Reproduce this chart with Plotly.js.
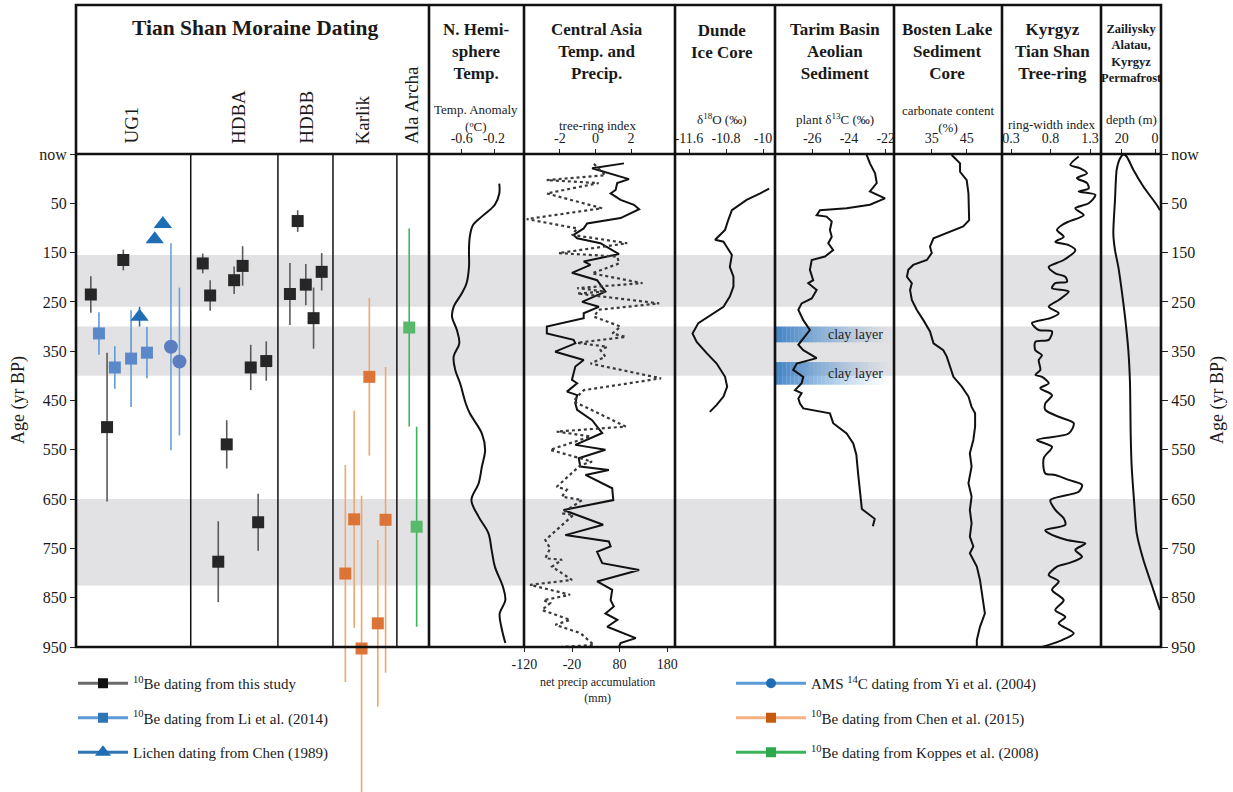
<!DOCTYPE html>
<html><head><meta charset="utf-8">
<script src="https://cdn.plot.ly/plotly-3.0.1.min.js"></script>
<style>html,body{margin:0;padding:0;background:#fff}#chart{width:1233px;height:792px}</style>
</head><body><div id="chart"></div>
<script>
// ================= DATA =================
const ageTickVals = [-50, 50, 150, 250, 350, 450, 550, 650, 750, 850, 950];
const ageTickText = ['now', '50', '150', '250', '350', '450', '550', '650', '750', '850', '950'];
const coldBands = [[155, 260], [300, 400], [650, 825]];
const clayLayers = [[300, 332], [372, 418]];

// top/bottom axis tick values and labels
const nhTicks = [-0.6, -0.2], nhTickText = ['-0.6', '-0.2'];
const treeTicks = [-2, 0, 2], treeTickText = ['-2', '0', '2'];
const precipTicks = [-120, -20, 80, 180], precipTickText = ['-120', '-20', '80', '180'];
const dundeTicks = [-11.6, -10.8, -10], dundeTickText = ['-11.6', '-10.8', '-10'];
const tarimTicks = [-26, -24, -22], tarimTickText = ['-26', '-24', '-22'];
const bostenTicks = [35, 45], bostenTickText = ['35', '45'];
const kyrgyzTicks = [0.3, 0.8, 1.3], kyrgyzTickText = ['0.3', '0.8', '1.3'];
const permaTicks = [20, 0], permaTickText = ['20', '0'];

// Moraine dating panel (position = % across the panel)
const moraineColumns = ['UG1', 'HDBA', 'HDBB', 'Karlik', 'Ala Archa'];
const moraineColumnCenters = [15.6, 45.9, 65.2, 81.3, 94.9];
const moraineColumnDividers = [32.5, 57.2, 72.8, 90.9];

const thisStudyPos = [4.2, 13.4, 8.8, 35.9, 38.0, 44.8, 47.2, 49.5, 53.9, 42.7, 40.3, 51.6, 62.8, 60.6, 65.1, 67.3, 69.6];
const thisStudyAge = [235, 165, 504, 172, 237, 206, 177, 383, 370, 539, 777, 697, 86, 234, 215, 283, 189];
const thisStudyErr = [37, 21, 151, 20, 31, 28, 40, 46, 40, 49, 82, 58, 22, 63, 42, 62, 38];

const li2014Pos = [6.5, 11.0, 15.6, 20.1];
const li2014Age = [314, 383, 365, 353];
const li2014Err = [43, 43, 98, 52];

const chen1989Pos = [24.6, 22.3, 18.0];
const chen1989Age = [92, 123, 280];
const chen1989Err = [0, 0, 20];

const yi2004Pos = [26.9, 29.3];
const yi2004Age = [341, 371];
const yi2004Err = [210, 150];

const chen2015Pos = [83.1, 87.7, 78.8, 76.3, 85.5, 80.9];
const chen2015Age = [402, 692, 691, 801, 902, 953];
const chen2015Err = [160, 310, 220, 220, 169, 310];

const koppes2008Pos = [94.4, 96.5];
const koppes2008Age = [302, 706];
const koppes2008Err = [201, 203];

// N. Hemisphere temperature anomaly (°C)
const nhTempAge = [10, 30, 53, 74, 94, 118, 145, 179, 212, 233, 260, 280, 307, 334, 361, 388, 415, 456, 476, 517, 550, 584, 618, 652, 686, 719, 753, 787, 828, 855, 882, 909, 942];
const nhTempAnom = [-0.135, -0.135, -0.19, -0.33, -0.46, -0.50, -0.51, -0.51, -0.54, -0.60, -0.70, -0.72, -0.66, -0.63, -0.70, -0.68, -0.62, -0.55, -0.50, -0.35, -0.31, -0.35, -0.39, -0.48, -0.39, -0.27, -0.23, -0.19, -0.09, -0.06, -0.13, -0.11, -0.06];

// Central Asia tree-ring index (solid)
const caTreeAge = [-31, -21, 1, 9, 23, 30, 43, 53, 62, 80, 91, 101, 114, 121, 131, 153, 168, 175, 191, 206, 229, 250, 260, 273, 283, 300, 314, 327, 334, 351, 368, 381, 395, 408, 415, 432, 439, 456, 469, 490, 516, 540, 550, 567, 584, 591, 601, 628, 652, 672, 702, 723, 736, 746, 757, 780, 794, 817, 834, 855, 868, 882, 895, 909, 932, 942, 950];
const caTreeRing = [1.60, -0.19, 1.88, 1.22, 1.13, 0.85, 1.41, 2.16, 2.45, 1.41, -0.47, -0.66, -1.23, -1.03, 0.28, 1.32, -0.66, -0.28, -1.32, 0.09, 0.56, -0.75, 0.19, -0.66, -0.66, -2.73, -2.73, -1.23, -1.13, -2.26, -0.66, -1.13, -1.23, -1.32, -1.03, -1.60, -1.03, -1.13, -1.03, -0.19, 0.38, -1.13, 0.56, -0.94, -0.85, 0.75, -0.56, 0.94, 1.00, -1.79, 0.43, -1.69, 0.75, 0.85, 0.09, 0.38, 2.45, 0.09, 0.94, 0.85, 1.03, 0.56, 1.23, 0.66, 2.26, 1.41, 1.32];

// Central Asia net precipitation accumulation (mm, dotted)
const caPrecipAge = [-30, -7, 3, 9, 30, 60, 82, 101, 114, 131, 151, 158, 172, 192, 212, 222, 229, 233, 253, 266, 280, 300, 314, 321, 333, 341, 348, 361, 375, 405, 415, 429, 439, 452, 463, 503, 513, 523, 550, 574, 581, 625, 631, 645, 652, 679, 682, 733, 750, 770, 773, 787, 814, 824, 844, 855, 861, 875, 895, 905, 922, 946, 950];
const caPrecip = [26, 50, -73, 36, -73, 43, -115, -9, -20, 96, -48, 75, 79, 22, 128, -9, 50, -9, 163, 36, 26, 82, 65, 93, -9, 54, 40, 50, 19, 167, 100, 5, -6, -17, 8, 93, -52, 19, -66, 22, -2, -52, -31, -41, 1, -41, -17, -76, -66, -76, -41, -62, -20, -108, -24, -80, -66, -83, -24, -55, -2, 26, -45];

// Dunde ice core δ18O (‰)
const dundeAge = [20, 30, 43, 64, 84, 104, 124, 128, 138, 155, 179, 199, 219, 239, 260, 277, 293, 314, 331, 354, 375, 402, 422, 442, 459, 473];
const dundeD18O = [-9.867, -10.060, -10.355, -10.673, -10.752, -10.821, -11.036, -10.855, -10.786, -10.673, -10.718, -10.639, -10.639, -10.718, -10.855, -11.150, -11.399, -11.524, -11.434, -11.218, -11.002, -10.821, -10.775, -10.855, -11.002, -11.150];

// Tarim Basin plant δ13C (‰)
const tarimAge = [-48, -31, -11, 9, 26, 40, 53, 60, 64, 74, 77, 87, 104, 118, 131, 145, 158, 165, 185, 206, 212, 226, 243, 253, 266, 287, 307, 327, 337, 348, 364, 375, 388, 402, 415, 429, 435, 446, 456, 466, 476, 496, 517, 537, 560, 600, 640, 670, 690, 705];
const tarimD13C = [-23.04, -22.86, -22.58, -22.49, -22.86, -22.04, -22.86, -24.13, -25.58, -25.76, -25.22, -24.94, -25.04, -24.94, -25.13, -24.86, -25.31, -26.03, -26.13, -25.95, -26.22, -25.76, -26.03, -26.58, -26.76, -26.49, -26.13, -26.58, -26.76, -26.49, -25.76, -26.85, -27.04, -26.49, -26.58, -26.94, -26.58, -26.76, -26.67, -26.49, -25.04, -24.86, -24.13, -23.77, -23.6, -23.5, -23.4, -23.3, -22.6, -22.7];

// Bosten Lake carbonate content (%)
const bostenAge = [-48, -31, -14, 3, 30, 57, 84, 97, 111, 121, 138, 151, 165, 175, 185, 199, 212, 226, 246, 266, 287, 310, 334, 348, 361, 381, 402, 422, 442, 463, 476, 503, 530, 557, 584, 618, 645, 672, 699, 726, 746, 760, 787, 814, 841, 855, 882, 909, 936, 950];
const bostenCarb = [40.7, 43.1, 43.1, 45.0, 45.5, 45.5, 45.7, 44.0, 39.3, 35.5, 34.5, 35.0, 33.6, 29.7, 28.3, 27.9, 29.3, 28.8, 29.3, 30.7, 32.6, 34.5, 35.5, 38.3, 39.3, 40.2, 41.2, 43.6, 45.5, 46.4, 47.4, 47.4, 46.9, 45.9, 46.4, 45.5, 46.4, 45.9, 46.4, 45.9, 46.9, 45.9, 47.9, 48.8, 49.3, 49.7, 50.2, 48.8, 47.9, 47.9];

// Kyrgyz Tian Shan tree-ring width index
const kyrgyzAge = [-45, -28, -21, -11, -1, 9, 20, 26, 33, 50, 60, 74, 87, 94, 104, 118, 128, 135, 145, 165, 179, 192, 199, 209, 212, 222, 229, 246, 260, 273, 283, 293, 307, 310, 327, 331, 348, 358, 368, 388, 398, 402, 415, 425, 439, 456, 469, 483, 496, 517, 530, 544, 567, 598, 601, 611, 621, 635, 652, 672, 689, 702, 713, 719, 733, 740, 753, 767, 780, 787, 804, 817, 834, 855, 875, 889, 902, 922, 936, 950];
const kyrgyzRW = [1.157, 1.051, 1.177, 1.262, 1.135, 1.262, 1.283, 1.157, 1.367, 1.283, 1.114, 1.220, 1.030, 0.946, 0.882, 0.967, 0.861, 1.030, 1.114, 0.967, 0.777, 0.861, 0.987, 1.009, 0.861, 0.819, 1.030, 0.904, 0.777, 0.904, 0.798, 0.566, 0.651, 0.819, 0.777, 0.608, 0.608, 0.692, 0.651, 0.671, 0.608, 0.692, 0.777, 0.671, 0.819, 0.734, 0.734, 0.904, 1.094, 1.030, 0.629, 0.819, 0.714, 0.734, 0.861, 1.030, 1.199, 1.157, 0.798, 0.861, 0.967, 0.987, 0.734, 0.777, 1.009, 1.241, 1.114, 1.199, 1.030, 0.882, 0.777, 0.904, 0.819, 0.967, 0.861, 0.987, 0.904, 1.094, 0.946, 0.692];

// Zailiysky Alatau / Kyrgyz permafrost depth (m)
const permaAge = [64, 53, 16, -18, -45, -49, -41, -18, 43, 111, 145, 179, 226, 280, 348, 415, 517, 584, 652, 719, 773, 834, 875];
const permaDepth = [-3.0, -1.0, 7.0, 13.0, 17.0, 19.0, 21.0, 23.0, 24.0, 25.0, 24.0, 22.0, 20.0, 18.0, 16.0, 15.0, 14.6, 14.0, 12.6, 11.0, 7.0, 1.0, -3.0];

// ================= LAYOUT GEOMETRY =================
const W = 1233, H = 792;
const HEAD = 5, TOP = 154, BOT = 647;
const edges = [76, 429, 524, 675, 775, 894, 1002, 1101, 1161];
const SERIF = 'Liberation Serif, Times New Roman, serif';
const px = x => x / W;
const py = y => 1 - y / H;
const ageAtPixel = p => -50 + (p - TOP) / (BOT - TOP) * 1000;
const dom = i => [px(edges[i]), px(edges[i + 1])];
const yDom = [py(BOT), py(TOP)];

const tickFont = {family: SERIF, size: 14, color: '#1a1a1a'};
function topAxis(i, range, tickvals, ticktext, extra) {
  return Object.assign({
    domain: dom(i), range: range, anchor: 'y', side: 'top',
    tickmode: 'array', tickvals: tickvals, ticktext: ticktext, ticks: 'outside', ticklen: 4, tickwidth: 1.2, tickcolor: '#222',
    tickfont: tickFont, showgrid: false, zeroline: false, showline: false, fixedrange: true
  }, extra || {});
}
const ageAxisBase = {
  domain: yDom, range: [950, -50], tickmode: 'array', tickvals: ageTickVals, ticktext: ageTickText,
  ticks: 'outside', ticklen: 6, tickwidth: 1.3, tickcolor: '#222', showgrid: false, zeroline: false,
  showline: false, tickfont: {family: SERIF, size: 16, color: '#1a1a1a'}, anchor: 'free', fixedrange: true
};

// ================= TRACES =================
const blackLine = {color: '#111', width: 2};
const traces = [];
function dating(pos, age, err, sym, size, mcol, ecol) {
  return {type: 'scatter', mode: 'markers', x: pos, y: age, xaxis: 'x', yaxis: 'y3', showlegend: false,
    cliponaxis: false, hoverinfo: 'skip',
    marker: {symbol: sym, size: size, color: mcol, line: {width: 0}},
    error_y: {type: 'data', array: err, visible: true, color: ecol, thickness: 1.6, width: 0}};
}
traces.push(dating(thisStudyPos, thisStudyAge, thisStudyErr, 'square', 12, '#262626', '#5a5a5a'));
traces.push(dating(li2014Pos, li2014Age, li2014Err, 'square', 12, '#5a88c8', '#5f9bd6'));
traces.push(dating(chen1989Pos, chen1989Age, chen1989Err, 'triangle-up', 16, '#1f6db5', '#1f6db5'));
traces.push(dating(yi2004Pos, yi2004Age, yi2004Err, 'circle', 14, '#5b7ec0', '#6aa2d8'));
traces.push(dating(chen2015Pos, chen2015Age, chen2015Err, 'square', 12, '#db7436', '#f0a66c'));
traces.push(dating(koppes2008Pos, koppes2008Age, koppes2008Err, 'square', 12, '#58b86c', '#3db55a'));

traces.push({type: 'scatter', mode: 'lines', x: nhTempAnom, y: nhTempAge, xaxis: 'x2', yaxis: 'y', line: Object.assign({shape: 'spline', smoothing: 1}, blackLine), showlegend: false});
traces.push({type: 'scatter', mode: 'lines', x: caTreeRing, y: caTreeAge, xaxis: 'x3', yaxis: 'y', line: blackLine, showlegend: false});
traces.push({type: 'scatter', mode: 'lines', x: caPrecip, y: caPrecipAge, xaxis: 'x4', yaxis: 'y', line: {color: '#3a3a3a', width: 2.2, dash: 'dot'}, showlegend: false});
traces.push({type: 'scatter', mode: 'lines', x: dundeD18O, y: dundeAge, xaxis: 'x5', yaxis: 'y', line: blackLine, showlegend: false});
traces.push({type: 'scatter', mode: 'lines', x: tarimD13C, y: tarimAge, xaxis: 'x6', yaxis: 'y', line: blackLine, showlegend: false});
traces.push({type: 'scatter', mode: 'lines', x: bostenCarb, y: bostenAge, xaxis: 'x7', yaxis: 'y', line: blackLine, showlegend: false});
traces.push({type: 'scatter', mode: 'lines', x: kyrgyzRW, y: kyrgyzAge, xaxis: 'x8', yaxis: 'y', line: Object.assign({shape: 'spline', smoothing: 0.8}, blackLine), showlegend: false});
traces.push({type: 'scatter', mode: 'lines', x: permaDepth, y: permaAge, xaxis: 'x9', yaxis: 'y2', line: Object.assign({shape: 'spline', smoothing: 0.6}, blackLine), showlegend: false});

// legend entries
const legendItems = [
  {name: '<sup>10</sup>Be dating from this study', sym: 'square', lc: '#6b6b6b', mc: '#111', legend: 'legend'},
  {name: '<sup>10</sup>Be dating from Li et al. (2014)', sym: 'square', lc: '#5b9bd5', mc: '#2e75b6', legend: 'legend'},
  {name: 'Lichen dating from Chen (1989)', sym: 'triangle-up', lc: '#2e75b6', mc: '#1f6db5', legend: 'legend'},
  {name: 'AMS <sup>14</sup>C dating from Yi et al. (2004)', sym: 'circle', lc: '#5b9bd5', mc: '#1f6db5', legend: 'legend2'},
  {name: '<sup>10</sup>Be dating from Chen et al. (2015)', sym: 'square', lc: '#f4b183', mc: '#c55a11', legend: 'legend2'},
  {name: '<sup>10</sup>Be dating from Koppes et al. (2008)', sym: 'square', lc: '#3cb45a', mc: '#2ea84a', legend: 'legend2'}
];
legendItems.forEach((it, k) => traces.push({
  type: 'scatter', mode: 'lines+markers', x: [null], y: [null], xaxis: 'x', yaxis: 'y3',
  name: it.name, legend: it.legend, legendgroup: 'g' + k, showlegend: true,
  line: {color: it.lc, width: 3}, marker: {symbol: it.sym, size: it.sym === 'triangle-up' ? 14 : 10, color: it.mc}
}));

// ================= SHAPES =================
const shapes = [];
coldBands.forEach(b => shapes.push({type: 'rect', xref: 'paper', yref: 'y', x0: px(edges[0]), x1: px(edges[8]), y0: b[0], y1: b[1],
  fillcolor: '#e2e2e4', line: {width: 0}, layer: 'below'}));
const NSTEP = 30, clayX0 = edges[4], clayX1 = 891;
clayLayers.forEach(c => {
  for (let s = 0; s < NSTEP; s++) {
    const a = 0.85 * Math.pow(1 - s / NSTEP, 1.3);
    shapes.push({type: 'rect', xref: 'paper', yref: 'y',
      x0: px(clayX0 + (clayX1 - clayX0) * s / NSTEP), x1: px(clayX0 + (clayX1 - clayX0) * (s + 1) / NSTEP),
      y0: c[0], y1: c[1], fillcolor: 'rgba(35,115,195,' + a.toFixed(3) + ')', line: {width: 0}, layer: 'below'});
  }
});
const borderLine = {color: '#111', width: 2.6};
shapes.push({type: 'rect', xref: 'paper', yref: 'paper', x0: px(edges[0]), x1: px(edges[8]), y0: py(BOT), y1: py(HEAD), line: borderLine, layer: 'above'});
shapes.push({type: 'line', xref: 'paper', yref: 'paper', x0: px(edges[0]), x1: px(edges[8]), y0: py(TOP), y1: py(TOP), line: borderLine, layer: 'above'});
for (let i = 1; i < edges.length - 1; i++) {
  shapes.push({type: 'line', xref: 'paper', yref: 'paper', x0: px(edges[i]), x1: px(edges[i]), y0: py(BOT), y1: py(HEAD), line: borderLine, layer: 'above'});
}
moraineColumnDividers.forEach(d => shapes.push({type: 'line', xref: 'x', yref: 'paper', x0: d, x1: d, y0: py(BOT), y1: py(TOP),
  line: {color: '#111', width: 1.5}, layer: 'above'}));

// ================= ANNOTATIONS =================
const ann = [];
function txt(text, x, y, size, bold, extra) {
  ann.push(Object.assign({text: bold ? '<b>' + text + '</b>' : text, xref: 'paper', yref: 'paper', x: px(x), y: py(y),
    showarrow: false, xanchor: 'center', yanchor: 'middle', font: {family: SERIF, size: size, color: '#1a1a1a'}}, extra || {}));
}
txt('Tian Shan Moraine Dating', 255, 28, 21.5, true);
txt('N. Hemi-<br>sphere<br>Temp.', 476, 52, 17, true);
txt('Central Asia<br>Temp. and<br>Precip.', 597, 52, 17, true);
txt('Dunde<br>Ice Core', 722, 41, 17, true);
txt('Tarim Basin<br>Aeolian<br>Sediment', 835, 52, 17, true);
txt('Bosten Lake<br>Sediment<br>Core', 948, 52, 17, true);
txt('Kyrgyz<br>Tian Shan<br>Tree-ring', 1052, 52, 17, true);
txt('Zailiysky<br>Alatau,<br>Kyrgyz<br>Permafrost', 1131, 53, 12.5, true);

moraineColumns.forEach((c, k) => ann.push({text: c, xref: 'x', yref: 'paper', x: moraineColumnCenters[k], y: py(146),
  textangle: -90, showarrow: false, xanchor: 'center', yanchor: 'bottom', font: {family: SERIF, size: 19, color: '#1a1a1a'}}));

txt('Temp. Anomaly<br>(ºC)', 476, 118, 13);
txt('tree-ring index', 597, 125, 13);
txt('δ<sup>18</sup>O (‰)', 722, 119, 13);
txt('plant δ<sup>13</sup>C (‰)', 835, 119, 13);
txt('carbonate content<br>(%)', 948, 119, 13);
txt('ring-width index', 1052, 124, 13);
txt('depth (m)', 1131, 120, 13);
txt('net precip accumulation<br>(mm)', 597, 690, 12);
txt('Age (yr BP)', 18, 400, 18, false, {textangle: -90});
txt('Age (yr BP)', 1217, 400, 18, false, {textangle: -90});
clayLayers.forEach(c => ann.push({text: 'clay layer', xref: 'paper', yref: 'y', x: px(855), y: (c[0] + c[1]) / 2,
  showarrow: false, xanchor: 'center', yanchor: 'middle', font: {family: SERIF, size: 14, color: '#222'}}));

// ================= LAYOUT =================
const legendFont = {family: SERIF, size: 15, color: '#1a1a1a'};
const layout = {
  width: W, height: H, margin: {l: 0, r: 0, t: 0, b: 0},
  paper_bgcolor: '#ffffff', plot_bgcolor: 'rgba(0,0,0,0)',
  font: {family: SERIF, color: '#1a1a1a'},
  showlegend: true,
  legend: {x: px(73), y: py(667), xanchor: 'left', yanchor: 'top', font: legendFont, bgcolor: 'rgba(0,0,0,0)',
    traceorder: 'grouped', tracegroupgap: 12, itemwidth: 50},
  legend2: {x: px(731), y: py(667), xanchor: 'left', yanchor: 'top', font: legendFont, bgcolor: 'rgba(0,0,0,0)',
    traceorder: 'grouped', tracegroupgap: 12, itemwidth: 70},
  xaxis: {domain: dom(0), range: [0, 100], anchor: 'y3', visible: false, fixedrange: true},
  yaxis3: {domain: [0, py(TOP)], range: [ageAtPixel(H), -50], anchor: 'x', visible: false, fixedrange: true},
  yaxis: Object.assign({}, ageAxisBase, {side: 'left', position: px(edges[0])}),
  yaxis2: Object.assign({}, ageAxisBase, {side: 'right', position: px(edges[8])}),
  xaxis2: topAxis(1, [-1.005, 0.171], nhTicks, nhTickText),
  xaxis3: topAxis(2, [-4.011, 4.463], treeTicks, treeTickText),
  xaxis4: topAxis(2, [-120.8, 196.3], precipTicks, precipTickText, {side: 'bottom', overlaying: 'x3'}),
  xaxis5: topAxis(3, [-11.903, -9.741], dundeTicks, dundeTickText),
  xaxis6: topAxis(4, [-28.03, -21.55], tarimTicks, tarimTickText),
  xaxis7: topAxis(5, [24.2, 55.1], bostenTicks, bostenTickText),
  xaxis8: topAxis(6, [0.186, 1.439], kyrgyzTicks, kyrgyzTickText),
  xaxis9: topAxis(7, [32.4, -3.6], permaTicks, permaTickText, {anchor: 'y2'}),
  shapes: shapes,
  annotations: ann
};

Plotly.newPlot('chart', traces, layout, {displayModeBar: false, responsive: false});
</script>
</body></html>
